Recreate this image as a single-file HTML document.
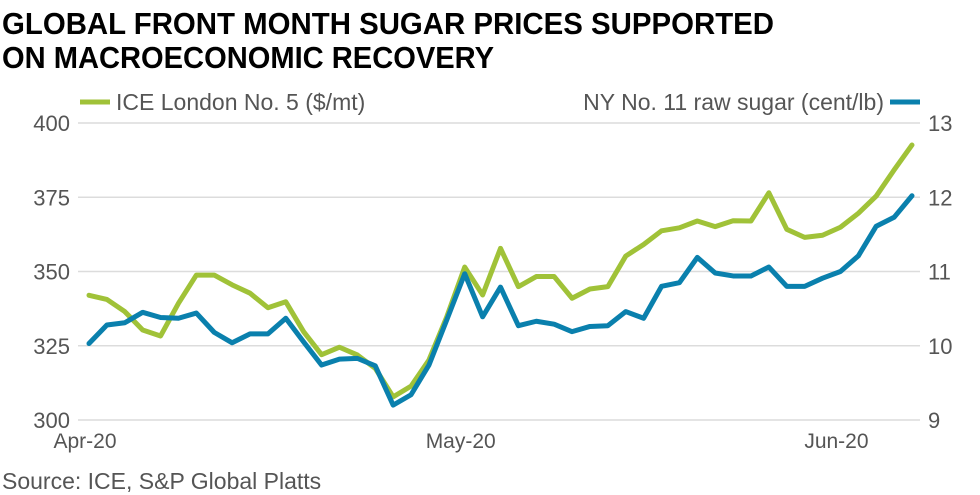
<!DOCTYPE html>
<html><head><meta charset="utf-8"><style>
html,body{margin:0;padding:0;background:#fff;}
svg{display:block;font-family:"Liberation Sans",sans-serif;}
</style></head><body>
<svg id="chart" width="980" height="495" viewBox="0 0 980 495">
<text x="2" y="34" font-size="31" font-weight="bold" fill="#000" textLength="772" lengthAdjust="spacingAndGlyphs">GLOBAL FRONT MONTH SUGAR PRICES SUPPORTED</text>
<text x="2" y="68" font-size="31" font-weight="bold" fill="#000" textLength="492" lengthAdjust="spacingAndGlyphs">ON MACROECONOMIC RECOVERY</text>
<g>
<line x1="80" y1="102" x2="110" y2="102" stroke="#a0c238" stroke-width="5"/>
<text x="116" y="110" font-size="23" fill="#555">ICE London No. 5 ($/mt)</text>
<text x="884" y="110" font-size="23" fill="#555" text-anchor="end">NY No. 11 raw sugar (cent/lb)</text>
<line x1="890" y1="102" x2="920" y2="102" stroke="#0a80ad" stroke-width="5"/>
</g>
<g id="grid"></g><g id="axes"></g><g id="series"></g>
<text x="2" y="489" font-size="23" fill="#555">Source: ICE, S&amp;P Global Platts</text>
</svg>
<script>
const leftTicks=[300,325,350,375,400];
const rightTicks=[9,10,11,12,13];
const xLabels=["Apr-20","May-20","Jun-20"];
const xLabelIdx=[0,21,42];
const iceLondon=[342,340.6,336.5,330.3,328.3,339.3,348.8,348.8,345.5,342.7,337.8,339.8,329.7,322,324.5,321.9,317.4,307.8,311.4,320.2,334.8,351.5,342.1,357.8,344.9,348.3,348.3,341,344.1,344.9,355.2,359.1,363.7,364.7,367,365.1,367.1,367,376.5,364.2,361.5,362.2,364.9,369.6,375.4,384.2,392.6];
const nyNo11=[10.03,10.28,10.31,10.45,10.38,10.37,10.44,10.18,10.04,10.16,10.16,10.37,10.05,9.74,9.82,9.83,9.73,9.2,9.34,9.74,10.35,10.97,10.39,10.79,10.27,10.33,10.29,10.19,10.26,10.27,10.46,10.37,10.8,10.85,11.19,10.98,10.94,10.94,11.06,10.8,10.8,10.91,11.0,11.21,11.61,11.73,12.02];
const NS="http://www.w3.org/2000/svg";
const xStart=89,xEnd=912,yTop=123,yBot=420;
const xS=i=>xStart+(xEnd-xStart)*i/(iceLondon.length-1);
const yL=v=>yBot-(v-300)/100*(yBot-yTop);
const yR=v=>yBot-(v-9)/4*(yBot-yTop);
function mk(tag,attrs,parent){const e=document.createElementNS(NS,tag);for(const k in attrs)e.setAttribute(k,attrs[k]);parent.appendChild(e);return e;}
const grid=document.getElementById('grid'),axes=document.getElementById('axes'),ser=document.getElementById('series');
leftTicks.forEach(t=>{
 const l=mk('line',{x1:78,x2:920,y1:yL(t),y2:yL(t),stroke:'#dcdcdc','stroke-width':1.5},grid);
 
 
 const tx=mk('text',{x:70,y:yL(t)+8,'font-size':22,fill:'#555','text-anchor':'end'},axes);
 tx.textContent=t;
 
 
});
rightTicks.forEach(t=>{
 const tx=mk('text',{x:928,y:yR(t)+8,'font-size':22,fill:'#555'},axes);
 tx.textContent=t;
 
 
});
xLabels.forEach((s,i)=>{
 const tx=mk('text',{x:xS(xLabelIdx[i])-4,y:448,'font-size':21,fill:'#555','text-anchor':'middle'},axes);
 tx.textContent=s;
 
 
});
const p1=mk('polyline',{points:iceLondon.map((v,i)=>xS(i)+','+yL(v)).join(' '),fill:'none',stroke:'#a0c238','stroke-width':5,'stroke-linejoin':'round','stroke-linecap':'round'},ser);


const p2=mk('polyline',{points:nyNo11.map((v,i)=>xS(i)+','+yR(v)).join(' '),fill:'none',stroke:'#0a80ad','stroke-width':5,'stroke-linejoin':'round','stroke-linecap':'round'},ser);


</script>
</body></html>
